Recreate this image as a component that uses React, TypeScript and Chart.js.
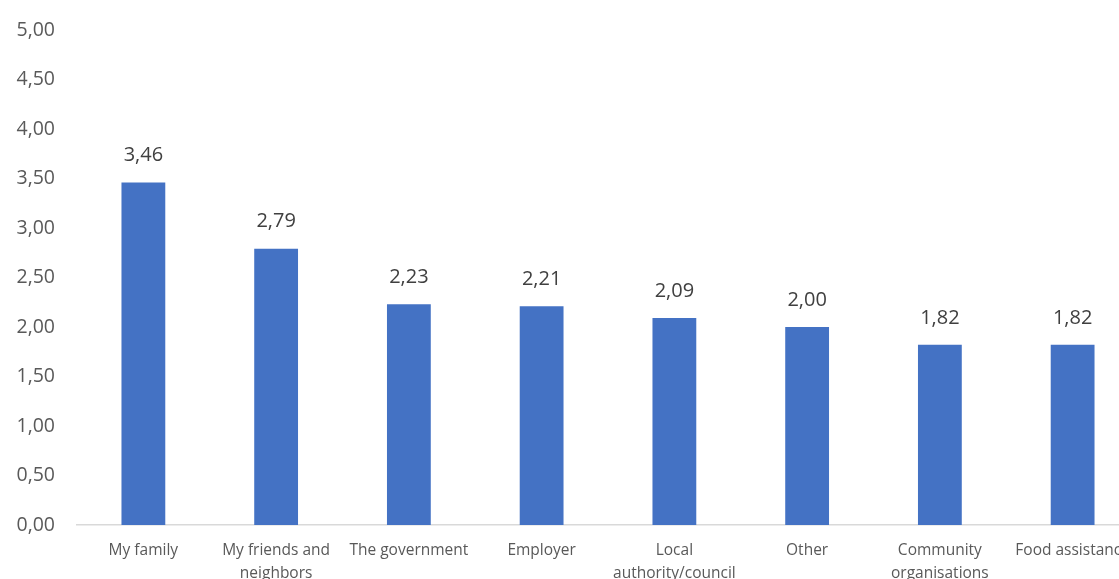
import React, { useEffect, useRef } from "react";
import { Chart, registerables } from "chart.js";

Chart.register(...registerables);

const categories: (string | string[])[] = [
  "My family",
  ["My friends and", "neighbors"],
  "The government",
  "Employer",
  ["Local", "authority/council"],
  "Other",
  ["Community", "organisations"],
  "Food assistance",
];
const values = [3.46, 2.79, 2.23, 2.21, 2.09, 2.0, 1.82, 1.82];
const yTicks = [0, 0.5, 1, 1.5, 2, 2.5, 3, 3.5, 4, 4.5, 5];

const FONT = "'Open Sans', 'Noto Sans', sans-serif";
const fmt = (v: number) => v.toFixed(2).replace(".", ",");

const dataLabels = {
  id: "dataLabels",
  afterDatasetsDraw(chart: any) {
    const ctx = chart.ctx;
    const meta = chart.getDatasetMeta(0);
    ctx.save();
    ctx.font = `20px ${FONT}`;
    ctx.fillStyle = "#404040";
    ctx.textAlign = "center";
    ctx.textBaseline = "middle";
    meta.data.forEach((el: any, i: number) => {
      ctx.fillText(fmt(values[i]), el.x, el.y - 27);
    });
    ctx.restore();
  },
};

export default function App() {
  const ref = useRef<HTMLCanvasElement | null>(null);
  useEffect(() => {
    if (!ref.current) return;
    const chart = new Chart(ref.current, {
      type: "bar",
      data: {
        labels: categories,
        datasets: [
          {
            data: values,
            backgroundColor: "#4472C4",
            categoryPercentage: 1,
            barPercentage: 0.33,
          },
        ],
      },
      options: {
        animation: false,
        responsive: false,
        maintainAspectRatio: false,
        layout: { padding: { top: 30, left: 0, right: 0, bottom: 0 } },
        plugins: { legend: { display: false }, tooltip: { enabled: false } },
        scales: {
          x: {
            grid: { display: false, drawTicks: false },
            border: { display: true, color: "#d9d9d9", width: 1.5 },
            ticks: {
              color: "#595959",
              font: { family: FONT, size: 15.5, lineHeight: 1.5 },
              padding: 14,
              maxRotation: 0,
              autoSkip: false,
            },
            afterFit: (s: any) => {
              s.height = 75;
              s.paddingLeft = 0;
              s.paddingRight = 0;
            },
          },
          y: {
            min: 0,
            max: 5,
            afterBuildTicks: (s: any) => {
              s.ticks = yTicks.map((v) => ({ value: v }));
            },
            grid: { display: false, drawTicks: false },
            border: { display: false },
            ticks: {
              color: "#595959",
              font: { family: FONT, size: 19.5 },
              padding: 22,
              callback: (v: any) => fmt(Number(v)),
            },
            afterFit: (s: any) => {
              s.width = 77;
              s.paddingTop = 0;
              s.paddingBottom = 0;
            },
          },
        },
      },
      plugins: [dataLabels],
    });
    return () => chart.destroy();
  }, []);
  return (
    <div
      style={{
        position: "absolute",
        left: 0,
        top: 0,
        width: 1119,
        height: 579,
        overflow: "hidden",
        background: "#fff",
      }}
    >
      <canvas ref={ref} width={1139} height={600} style={{ display: "block" }} />
    </div>
  );
}
